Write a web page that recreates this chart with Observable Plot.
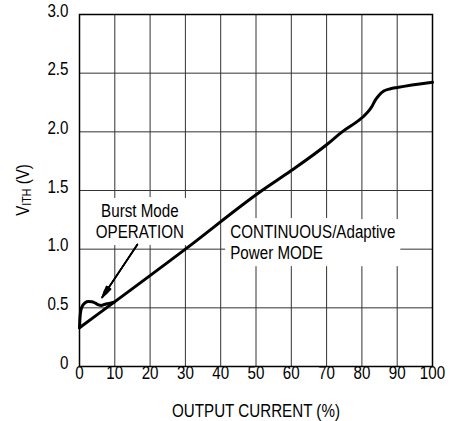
<!DOCTYPE html>
<html><head><meta charset="utf-8">
<script src="https://cdn.jsdelivr.net/npm/d3@7"></script>
<script src="https://cdn.jsdelivr.net/npm/@observablehq/plot@0.6"></script>
<style>
html,body{margin:0;padding:0;background:#fff;}
#chart{width:461px;height:421px;}
</style></head><body><div id="chart"></div>
<script>
// ---- data ----
const xTicks = [0, 10, 20, 30, 40, 50, 60, 70, 80, 90, 100];
const yTicks = [0, 0.5, 1.0, 1.5, 2.0, 2.5, 3.0];
const yTickLabels = ["0", "0.5", "1.0", "1.5", "2.0", "2.5", "3.0"];

// CONTINUOUS / Adaptive Power mode curve
const mainX = [0, 30, 51.7, 60, 70, 74.4, 80, 82, 83, 83.8, 84.8, 86.2, 88.1, 90, 100];
const mainV = [0.33, 1.0, 1.5, 1.67, 1.89, 2.0, 2.12, 2.18, 2.225, 2.27, 2.31, 2.347, 2.367, 2.378, 2.423];

// Burst Mode operation curve
const burstX = [0, 0.15, 0.4, 0.9, 1.6, 2.5, 3.5, 4.5, 5.4, 6.2, 7.0, 7.8, 8.7, 9.8];
const burstV = [0.33, 0.42, 0.48, 0.52, 0.543, 0.553, 0.552, 0.54, 0.525, 0.52, 0.528, 0.535, 0.54, 0.548];

// annotations
const annoText = ["Burst Mode\nOPERATION", "CONTINUOUS/Adaptive\nPower MODE"];
const annoX = [17.1, 42.7];
const annoY = [1.24, 1.06];
const arrowX1 = [16.4], arrowY1 = [1.04], arrowX2 = [6.4], arrowY2 = [0.588];

const xLabel = "OUTPUT CURRENT (%)";
const yLabelMain = "V", yLabelSub = "ITH", yLabelTail = " (V)";

const FONT = '"Liberation Sans Narrow", "Arial Narrow", "Liberation Sans", Arial, sans-serif';
const NARROW = 0.82;

const mainData = mainX.map((x, i) => ({x, y: mainV[i]}));
const burstData = burstX.map((x, i) => ({x, y: burstV[i]}));

// solid-looking arrowhead: several nested heads
const headAngles = [32, 24, 16, 8];
const arrowMarks = headAngles.map(a =>
  Plot.arrow([0], {x1: arrowX1, y1: arrowY1, x2: arrowX2, y2: arrowY2, stroke: "#000",
    strokeWidth: a === 32 ? 1 : 1.5, headLength: 12, headAngle: a}));

const chart = Plot.plot({
  width: 461, height: 421,
  marginLeft: 79, marginRight: 29, marginTop: 14, marginBottom: 55,
  style: {fontFamily: FONT, fontSize: "18px", color: "#000", background: "#fff"},
  x: {domain: [0, 100]},
  y: {domain: [0, 3]},
  marks: [
    Plot.ruleX(xTicks, {stroke: "#333", strokeWidth: 1}),
    Plot.ruleY(yTicks, {stroke: "#333", strokeWidth: 1}),
    Plot.text([annoText[0]], {x: [annoX[0]], y: [annoY[0]], text: d => d, textAnchor: "middle", fontSize: 18.5, lineHeight: 1.1,
      fill: "#000", stroke: "#fff", strokeWidth: 14, strokeLinejoin: "round"}),
    Plot.text([annoText[1]], {x: [annoX[1]], y: [annoY[1]], text: d => d, textAnchor: "start", fontSize: 18.5, lineHeight: 1.1,
      fill: "#000", stroke: "#fff", strokeWidth: 14, strokeLinejoin: "round"}),
    Plot.line(mainData, {x: "x", y: "y", stroke: "#000", strokeWidth: 3, curve: "monotone-x"}),
    Plot.line(burstData, {x: "x", y: "y", stroke: "#000", strokeWidth: 3, curve: "monotone-x"}),
    ...arrowMarks,
    Plot.frame({stroke: "#000", strokeWidth: 1.5}),
    Plot.axisX({ticks: xTicks, tickSize: 0, tickPadding: 12, label: null, fontSize: 18.5}),
    Plot.axisY({ticks: yTicks, tickSize: 0, tickPadding: 11, label: null, fontSize: 18.5, dy: 2,
      tickFormat: d => yTickLabels[yTicks.indexOf(d)]}),
    Plot.text([xLabel], {frameAnchor: "bottom", dy: 50, lineAnchor: "bottom", text: d => d, fontSize: 18.5, fill: "#000"})
  ]
});
document.getElementById("chart").appendChild(chart);

const svg = d3.select(chart);

// y-axis title with subscript
svg.append("text")
  .attr("transform", `translate(29,${(14 + 366) / 2}) rotate(-90)`)
  .attr("text-anchor", "middle")
  .attr("fill", "#000")
  .style("font-size", "18.5px")
  .call(t => {
    t.append("tspan").text(yLabelMain);
    t.append("tspan").style("font-size", "13px").attr("dy", 2).text(yLabelSub);
    t.append("tspan").attr("dy", -2).text(yLabelTail);
  });

// emulate a narrow (condensed) face: scale every text horizontally about its anchor
svg.selectAll("text").each(function() {
  const el = this;
  let t = el.getAttribute("transform") || "";
  const x = el.getAttribute("x"), y = el.getAttribute("y");
  if (x !== null || y !== null) {
    t = `translate(${+x || 0},${+y || 0}) ` + t;
    el.removeAttribute("x"); el.removeAttribute("y");
  }
  el.setAttribute("transform", t + ` scale(${NARROW},1)`);
});

// white boxes behind the annotation labels (hide grid lines there)
try {
  const texts = Array.from(chart.querySelectorAll("text")).filter(el =>
    el.textContent.indexOf("Burst") >= 0 || el.textContent.indexOf("CONTINUOUS") >= 0);
  texts.forEach(el => {
    const bb = el.getBBox();
    const padX = 5 / NARROW, padY = 3;
    const r = document.createElementNS("http://www.w3.org/2000/svg", "rect");
    r.setAttribute("transform", el.getAttribute("transform") || "");
    r.setAttribute("x", bb.x - padX);
    r.setAttribute("y", bb.y - padY);
    r.setAttribute("width", bb.width + 2 * padX);
    r.setAttribute("height", bb.height + 2 * padY);
    r.setAttribute("fill", "#fff");
    r.setAttribute("stroke", "none");
    el.parentNode.insertBefore(r, el);
  });
} catch (e) { console.error(e); }
</script></body></html>
